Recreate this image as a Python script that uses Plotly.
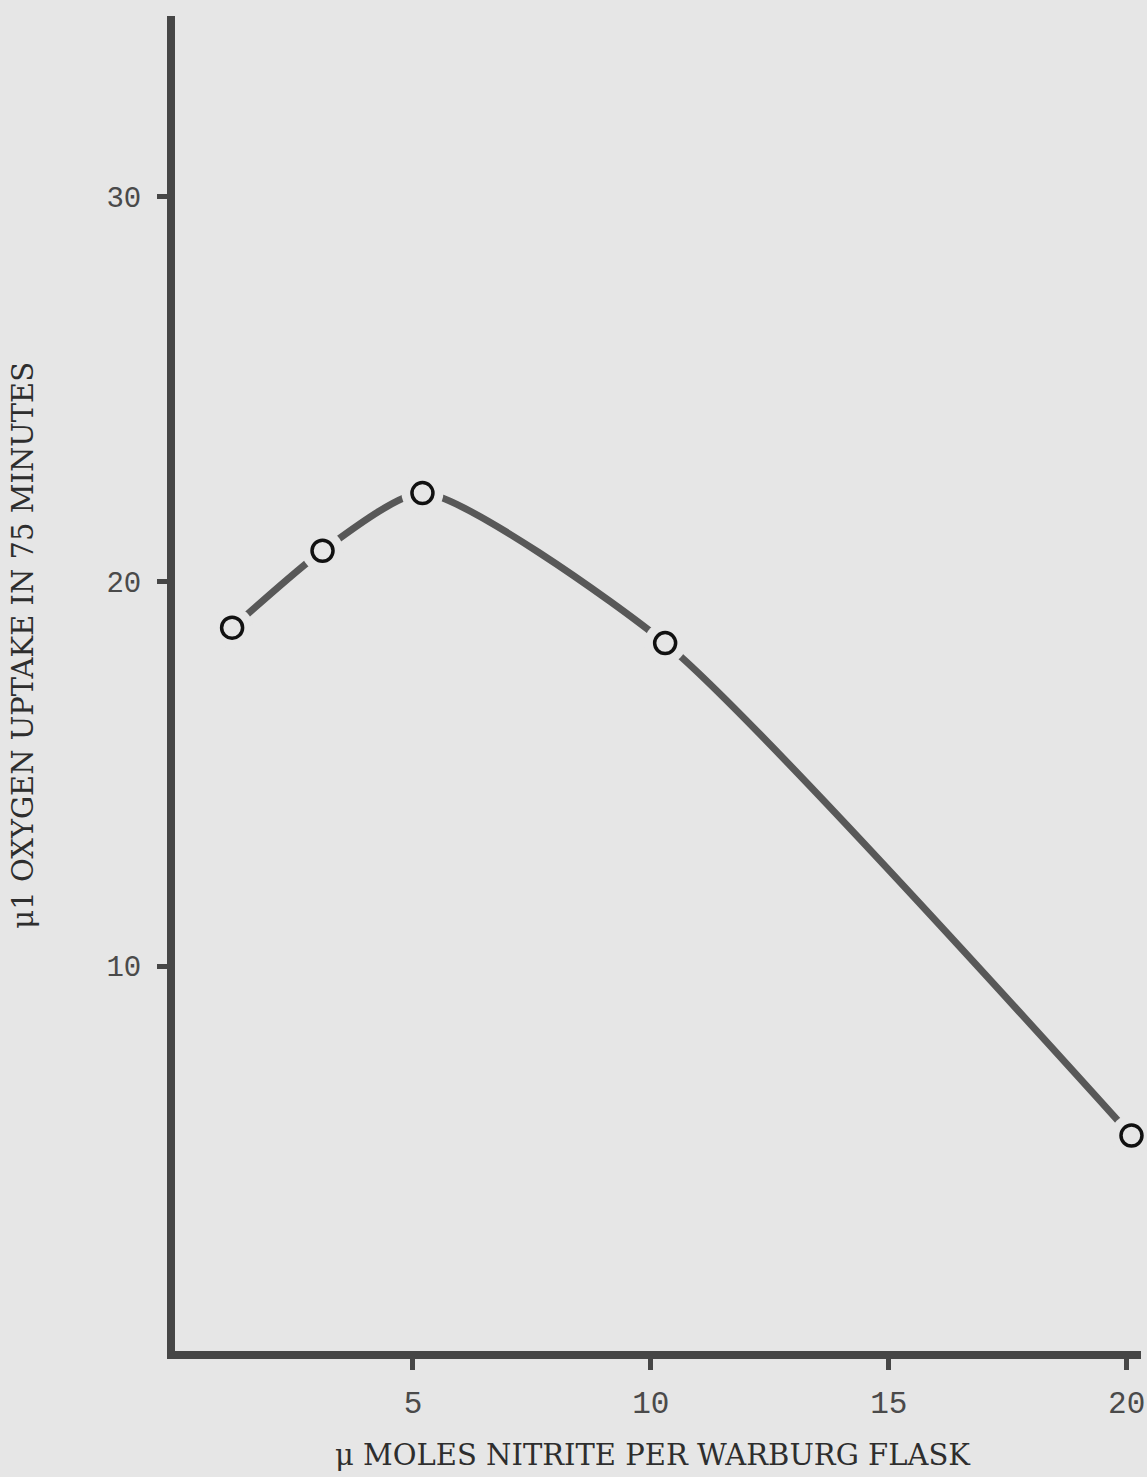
import plotly.graph_objects as go

# Data
nitrite_umoles = [1.2, 3.1, 5.2, 10.3, 20.1]
oxygen_uptake_ul = [18.8, 20.8, 22.3, 18.4, 5.6]

x_ticks = [5, 10, 15, 20]
y_ticks = [10, 20, 30]

BG = "#e6e6e6"
AXIS = "#464646"
LINE = "#585858"

fig = go.Figure()

# smooth curve through points
fig.add_trace(go.Scatter(
    x=nitrite_umoles, y=oxygen_uptake_ul, mode="lines",
    line=dict(color=LINE, width=7, shape="spline", smoothing=0.6),
    hoverinfo="skip", showlegend=False, cliponaxis=False,
))
# background discs to create gaps around the circles
fig.add_trace(go.Scatter(
    x=nitrite_umoles, y=oxygen_uptake_ul, mode="markers",
    marker=dict(symbol="circle", size=42, color=BG, line=dict(width=0)),
    hoverinfo="skip", showlegend=False, cliponaxis=False,
))
# open circles
fig.add_trace(go.Scatter(
    x=nitrite_umoles, y=oxygen_uptake_ul, mode="markers",
    marker=dict(symbol="circle", size=21, color=BG, line=dict(width=3.5, color="#111111")),
    showlegend=False, cliponaxis=False,
))

fig.update_layout(
    width=1147, height=1477,
    margin=dict(l=175, r=2, t=16, b=126),
    paper_bgcolor=BG, plot_bgcolor=BG,
    showlegend=False,
    xaxis=dict(
        range=[0, 20.3], tickvals=x_ticks, ticktext=[str(v) for v in x_ticks],
        showgrid=False, zeroline=False, showline=True, linecolor=AXIS, linewidth=8,
        ticks="outside", ticklen=11, tickwidth=5, tickcolor=AXIS,
        tickfont=dict(family="Liberation Mono", size=31, color="#4a4a4a"),
        ticklabelstandoff=6, ticklabeloverflow="allow",
    ),
    yaxis=dict(
        range=[0, 34.7], tickvals=y_ticks, ticktext=[str(v) for v in y_ticks],
        showgrid=False, zeroline=False, showline=True, linecolor=AXIS, linewidth=8,
        ticks="outside", ticklen=10, tickwidth=5, tickcolor=AXIS,
        tickfont=dict(family="Liberation Mono", size=29, color="#4a4a4a"),
        ticklabelstandoff=10,
    ),
    annotations=[
        dict(text="\u03bc MOLES NITRITE PER WARBURG FLASK", xref="paper", yref="paper",
             x=(655 - 175) / (1147 - 175 - 2), y=-(1455 - 1351) / (1351 - 16),
             xanchor="center", yanchor="middle", showarrow=False,
             font=dict(family="DejaVu Serif", size=29, color="#2e2e2e")),
        dict(text="\u03bc1 OXYGEN UPTAKE IN 75 MINUTES", xref="paper", yref="paper",
             x=-(175 - 22) / (1147 - 175 - 2), y=(1351 - 645) / (1351 - 16),
             xanchor="center", yanchor="middle", showarrow=False, textangle=-90,
             font=dict(family="DejaVu Serif", size=29, color="#2e2e2e")),
    ],
)

fig.write_html("out.html")
